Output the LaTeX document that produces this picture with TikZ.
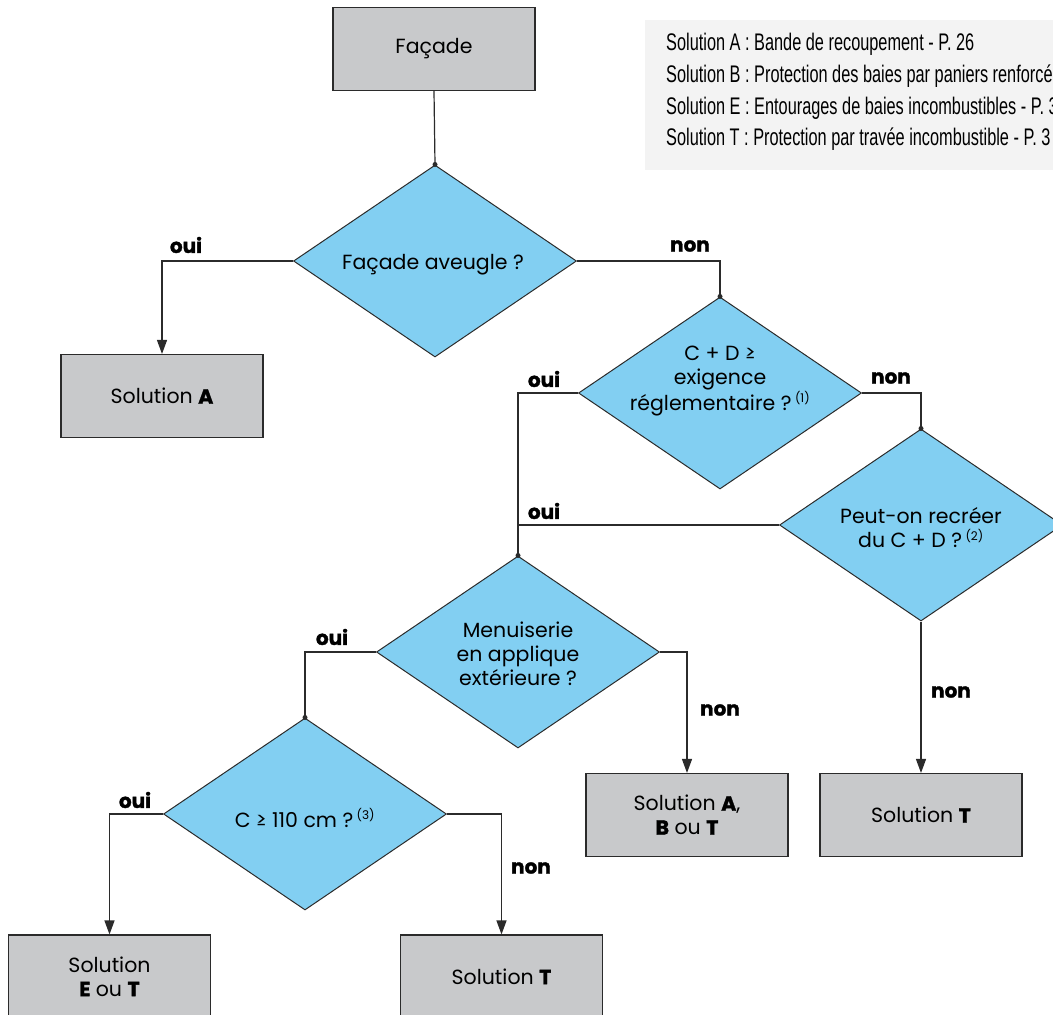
\documentclass[tikz,border=0pt]{standalone}
\usepackage{fontspec}
\setmainfont{Poppins}[BoldFeatures={FakeBold=1.5}]
\newfontfamily\condfont[FakeStretch=0.68]{Liberation Sans}
\usetikzlibrary{shapes.geometric,arrows.meta}
\definecolor{boxgray}{HTML}{C8C9CB}
\definecolor{dblue}{HTML}{82CFF2}
\definecolor{linec}{HTML}{2B2B2B}
\definecolor{leggray}{HTML}{F3F3F3}
\newcommand{\fnote}[1]{\textsuperscript{\fontsize{12}{12}\selectfont #1}}
\begin{document}
\begin{tikzpicture}[x=1pt,y=-1pt,
  sol/.style={draw=linec, line width=1.1pt, fill=boxgray, minimum width=202pt, minimum height=83pt, inner sep=0pt, align=center, font=\fontsize{20.5}{24}\selectfont},
  dec/.style={diamond, draw=linec, line width=1pt, fill=dblue, minimum width=283pt, minimum height=192pt, inner sep=0pt},
  dtxt/.style={align=center, font=\fontsize{20.5}{24}\selectfont, inner sep=0pt},
  conn/.style={draw=linec, line width=1.2pt},
  arr/.style={conn, -{Triangle[width=10pt,length=14pt]}},
  yn/.style={font=\bfseries\fontsize{20}{22}\selectfont, inner sep=0pt},
  jdot/.style={circle, fill=linec, inner sep=0pt, minimum size=5pt},
  leg/.style={anchor=west, inner sep=0pt, font=\condfont\fontsize{24}{26}\selectfont}
]
\useasboundingbox (0,0) rectangle (1053,1015);
% legend
\node[fill=leggray, anchor=north west, minimum width=420pt, minimum height=150pt, inner sep=0pt] (legbg) at (645,20) {};
\node[leg] (l1) at (666,44) {Solution A : Bande de recoupement - P. 26};
\node[leg] (l2) at (666,76) {Solution B : Protection des baies par paniers renforcés};
\node[leg] (l3) at (666,108) {Solution E : Entourages de baies incombustibles - P. 3};
\node[leg] (l4) at (666,139) {Solution T : Protection par travée incombustible - P. 3};

% boxes
\node[sol] (fac) at (434,49) {Façade};
\node[sol] (sa) at (162,396) {Solution \textbf{A}};
\node[sol] (st1) at (921,815) {Solution \textbf{T}};
\node[sol] (sabt) at (687,815) {Solution \textbf{A},\\\textbf{B} ou \textbf{T}};
\node[sol] (set) at (109.5,976.5) {Solution\\\textbf{E} ou \textbf{T}};
\node[sol] (st2) at (501.5,976.5) {Solution \textbf{T}};

% diamonds
\node[dec] (d1) at (435,261) {};
\node[dtxt] (d1t) at (433,265) {Façade aveugle ?};
\node[dec] (d2) at (720,393) {};
\node[dtxt] (d2t) at (720,381) {C + D ≥\\exigence\\réglementaire ?\,\fnote{(1)}};
\node[dec] (d4) at (921,525) {};
\node[dtxt] (d4t) at (921,528) {Peut-on recréer\\du C + D ?\,\fnote{(2)}};
\node[dec] (d3) at (518,652) {};
\node[dtxt] (d3t) at (518,654) {Menuiserie\\en applique\\extérieure ?};
\node[dec] (d5) at (305,814) {};
\node[dtxt] (d5t) at (305,818) {C ≥ 110 cm ?\,\fnote{(3)}};

% connectors
\draw[conn] (fac.south) -- (d1.north);
\draw[arr] (d1.west) -| (sa.north);
\draw[conn] (d1.east) -| (d2.north);
\draw[conn] (d2.west) -| (d3.north);
\draw[conn] (d2.east) -| (d4.north);
\draw[conn] (d4.west) -- (d4.west -| d3.north);
\draw[arr] (d4.south) -- (st1.north);
\draw[conn] (d3.west) -| (d5.north);
\draw[arr] (d3.east) -| (sabt.north);
\draw[arr] (d5.west) -| (set.north);
\draw[arr] (d5.east) -| (st2.north);

% junction dots
\node[jdot] (j1) at (d1.north) {};
\node[jdot] (j2) at (d2.north) {};
\node[jdot] (j3) at (d4.north) {};
\node[jdot] (j4) at (d3.north) {};
\node[jdot] (j5) at (d5.north) {};

% labels
\node[yn] (o1) at (186,245) {oui};
\node[yn] (n1) at (690,246) {non};
\node[yn] (o2) at (544,379) {oui};
\node[yn] (n2) at (891,378) {non};
\node[yn] (o3) at (544,511) {oui};
\node[yn] (n4) at (951,692) {non};
\node[yn] (o4) at (332,637) {oui};
\node[yn] (n3) at (720,710) {non};
\node[yn] (o5) at (135,800) {oui};
\node[yn] (n5) at (531,868) {non};
\end{tikzpicture}
\end{document}
